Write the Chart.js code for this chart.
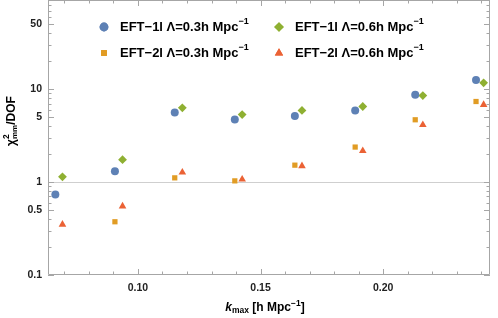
<!DOCTYPE html>
<html>
<head>
<meta charset="utf-8">
<script src="https://cdn.jsdelivr.net/npm/chart.js@4.4.0/dist/chart.umd.min.js"></script>
<style>
  body { margin: 0; background: #fff; }
  #wrap { width: 498px; height: 318px; }
</style>
</head>
<body>
<div id="wrap"><canvas id="chiChart" width="498" height="318"></canvas></div>
<script>
// k_max positions (blue/orange share one set, green/red sit slightly to the right)
const kA = [0.0663, 0.0906, 0.1150, 0.1395, 0.1640, 0.1886, 0.2131, 0.2379];
const kB = [0.0692, 0.0937, 0.1181, 0.1425, 0.1669, 0.1917, 0.2162, 0.2410];

// chi^2 / DOF values
const eft1l03 = [0.735, 1.31, 5.6, 4.71, 5.13, 5.89, 8.68, 12.5];
const eft2l03 = [null, 0.374, 1.11, 1.03, 1.52, 2.38, 4.68, 7.36];
const eft1l06 = [1.14, 1.74, 6.3, 5.33, 5.9, 6.5, 8.53, 11.7];
const eft2l06 = [0.35, 0.55, 1.27, 1.07, 1.49, 2.17, 4.13, 6.8];

// tick positions
const xMajor = [0.10, 0.15, 0.20];
const xMinor = [0.07, 0.08, 0.09, 0.11, 0.12, 0.13, 0.14, 0.16, 0.17, 0.18, 0.19, 0.21, 0.22, 0.23, 0.24];
const yMajor = [0.1, 0.5, 1, 5, 10, 50];
const yMinor = [0.2, 0.3, 0.4, 0.6, 0.7, 0.8, 0.9, 2, 3, 4, 6, 7, 8, 9, 20, 30, 40, 60, 70, 80, 90];

const legendLabels = ['EFT\u22121l \u039B=0.3h Mpc', 'EFT\u22122l \u039B=0.3h Mpc', 'EFT\u22121l \u039B=0.6h Mpc', 'EFT\u22122l \u039B=0.6h Mpc'];

const FONT = '"Liberation Sans", Arial, sans-serif';
const colors = ['#5E81B5', '#E19C24', '#8FB032', '#EB6235'];
const styles = ['circle', 'rect', 'rectRot', 'triangle'];
const radii = [4, 3.7, 4.4, 4.4];

function pts(xs, ys) {
    const out = [];
    ys.forEach((v, i) => { if (v !== null) out.push({ x: xs[i], y: v }); });
    return out;
}

const seriesData = [pts(kA, eft1l03), pts(kA, eft2l03), pts(kB, eft1l06), pts(kB, eft2l06)];

const datasets = seriesData.map((d, i) => ({
    label: legendLabels[i],
    data: d,
    pointStyle: styles[i],
    pointRadius: radii[i],
    pointBackgroundColor: colors[i],
    pointBorderWidth: 0,
    showLine: false
}));

// draw text made of several pieces (for super/subscripts)
function richWidth(ctx, parts) {
    let w = 0;
    parts.forEach(p => { ctx.font = p.font; w += ctx.measureText(p.t).width; });
    return w;
}
function drawRich(ctx, parts, x, y) {
    parts.forEach(p => {
        ctx.font = p.font;
        ctx.fillText(p.t, x, y + (p.dy || 0));
        x += ctx.measureText(p.t).width;
    });
}

// Mathematica style frame with inward ticks, plus legend and titles
const framePlugin = {
    id: 'framePlugin',
    beforeDatasetsDraw(chart) {
        const { ctx, chartArea: a, scales: { x, y } } = chart;
        ctx.save();
        ctx.strokeStyle = '#a6a6a6';
        ctx.lineWidth = 1;
        ctx.beginPath();
        ctx.rect(a.left + 0.5, a.top + 0.5, a.right - a.left - 1, a.bottom - a.top - 1);
        const tick = (vals, len) => {
            vals.forEach(v => {
                const px = Math.round(x.getPixelForValue(v)) + 0.5;
                ctx.moveTo(px, a.bottom); ctx.lineTo(px, a.bottom - len);
                ctx.moveTo(px, a.top); ctx.lineTo(px, a.top + len);
            });
        };
        const ytick = (vals, len) => {
            vals.forEach(v => {
                const py = Math.round(y.getPixelForValue(v)) + 0.5;
                ctx.moveTo(a.left, py); ctx.lineTo(a.left + len, py);
                ctx.moveTo(a.right, py); ctx.lineTo(a.right - len, py);
            });
        };
        tick(xMajor, 6); tick(xMinor, 3.5);
        ytick(yMajor, 6); ytick(yMinor, 3.5);
        ctx.stroke();
        ctx.restore();
    },
    afterDraw(chart) {
        const { ctx } = chart;
        ctx.save();
        ctx.fillStyle = '#000';
        ctx.textBaseline = 'middle';
        ctx.textAlign = 'left';
        const main = 'bold 13px ' + FONT;
        const sup = 'bold 9px ' + FONT;
        const spots = [[104, 27], [104, 53], [279, 27], [279, 53]];
        spots.forEach((s, i) => {
            ctx.fillStyle = colors[i];
            Chart.helpers.drawPoint(ctx, { pointStyle: styles[i], radius: radii[i] + 0.4, rotation: 0, borderWidth: 0 }, s[0], s[1]);
            ctx.fill();
            ctx.fillStyle = '#000';
            drawRich(ctx, [{ t: legendLabels[i], font: main }, { t: '\u22121', font: sup, dy: -5 }], s[0] + 16, s[1]);
        });

        // x title
        const xParts = [
            { t: 'k', font: 'italic bold 12px ' + FONT },
            { t: 'max', font: 'bold 8.5px ' + FONT, dy: 3 },
            { t: ' [h Mpc', font: 'bold 12px ' + FONT },
            { t: '\u22121', font: 'bold 8.5px ' + FONT, dy: -4 },
            { t: ']', font: 'bold 12px ' + FONT }
        ];
        const xw = richWidth(ctx, xParts);
        drawRich(ctx, xParts, 265 - xw / 2, 308);

        // y title (rotated)
        const yParts = [
            { t: '\u03C7', font: 'bold 12px ' + FONT },
            { t: '2', font: 'bold 8.5px ' + FONT, dy: -5 },
            { t: 'mm', font: 'bold 8px ' + FONT, dy: 3 },
            { t: '/DOF', font: 'bold 12px ' + FONT }
        ];
        ctx.translate(12, 121);
        ctx.rotate(-Math.PI / 2);
        const yw = richWidth(ctx, yParts);
        // superscript and subscript overlap horizontally
        ctx.font = yParts[1].font;
        const shift = ctx.measureText('2').width;
        let cx = -(yw - shift) / 2;
        ctx.font = yParts[0].font; ctx.fillText(yParts[0].t, cx, 0); cx += ctx.measureText(yParts[0].t).width;
        ctx.font = yParts[1].font; ctx.fillText(yParts[1].t, cx, yParts[1].dy);
        ctx.font = yParts[2].font; ctx.fillText(yParts[2].t, cx, yParts[2].dy); cx += ctx.measureText(yParts[2].t).width;
        ctx.font = yParts[3].font; ctx.fillText(yParts[3].t, cx, 0);
        ctx.restore();
    }
};

const chiChart = new Chart(document.getElementById('chiChart').getContext('2d'), {
    type: 'scatter',
    data: { datasets: datasets },
    options: {
        responsive: false,
        animation: false,
        layout: { autoPadding: false, padding: { top: 0, right: 8, left: 0, bottom: 0 } },
        plugins: { legend: { display: false }, tooltip: { enabled: false } },
        scales: {
            x: {
                type: 'linear',
                min: 0.0633,
                max: 0.2436,
                afterBuildTicks: s => { s.ticks = xMajor.map(v => ({ value: v })); },
                afterFit: s => { s.height = 43; s.paddingLeft = 0; s.paddingRight = 0; },
                ticks: {
                    callback: v => v.toFixed(2),
                    font: { family: FONT, size: 10.5, weight: 'bold' },
                    color: '#222',
                    padding: 7,
                    maxRotation: 0
                },
                grid: { display: false, drawTicks: false },
                border: { display: false }
            },
            y: {
                type: 'logarithmic',
                min: 0.1,
                max: 91,
                afterBuildTicks: s => { s.ticks = yMajor.map(v => ({ value: v })); },
                afterFit: s => { s.width = 48; s.paddingTop = 0; s.paddingBottom = 0; },
                ticks: {
                    callback: v => String(v),
                    font: { family: FONT, size: 10.5, weight: 'bold' },
                    color: '#222',
                    padding: 6
                },
                grid: {
                    drawTicks: false,
                    color: c => (c.tick && c.tick.value === 1) ? '#cfcfcf' : 'rgba(0,0,0,0)'
                },
                border: { display: false }
            }
        }
    },
    plugins: [framePlugin]
});
</script>
</body>
</html>
